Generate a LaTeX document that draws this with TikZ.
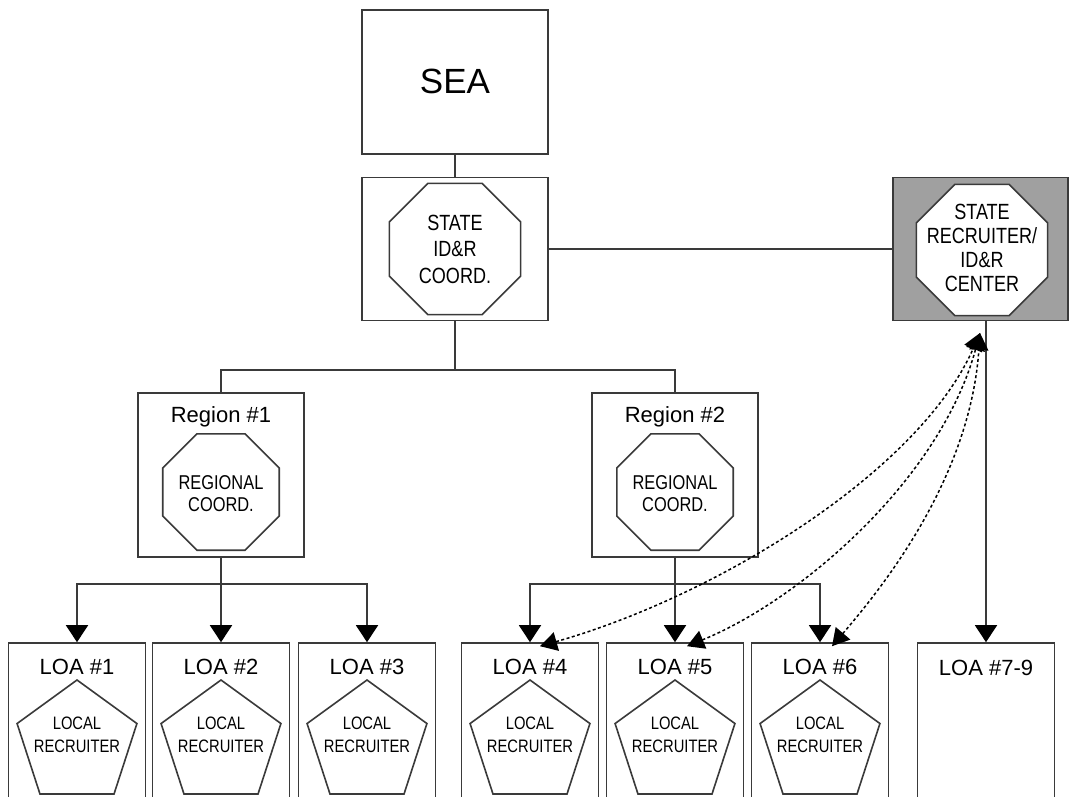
\documentclass[tikz,border=0pt]{standalone}
\usepackage{fontspec}
\setmainfont{Liberation Sans}
\newfontfamily\narrowsf[FakeStretch=0.82]{Liberation Sans}
\usepackage{tikz}
\usetikzlibrary{shapes.geometric,arrows.meta}
\definecolor{linegray}{HTML}{3A3A3A}
\definecolor{hubgray}{HTML}{A0A0A0}

\begin{document}
\begin{tikzpicture}
	[x=1pt,y=-1pt,line width=1.6pt,
	orgbox/.style={rectangle,draw=linegray,fill=white,inner sep=0pt},
	octa/.style={regular polygon,regular polygon sides=8,draw=linegray,fill=white,inner sep=0pt},
	penta/.style={regular polygon,regular polygon sides=5,draw=linegray,fill=white,inner sep=0pt,minimum size=126pt},
	title/.style={font=\fontsize{22}{26}\selectfont,anchor=base,inner sep=0pt},
	octtext/.style={font=\narrowsf\fontsize{21}{26.5}\selectfont,align=center,inner sep=0pt},
	pentext/.style={font=\narrowsf\fontsize{18}{23}\selectfont,align=center,inner sep=0pt},
	conn/.style={draw=linegray,line width=1.6pt},
	down/.style={conn,-{Triangle[width=22pt,length=17pt,color=black]}},
	dots/.style={draw=black,line width=1.5pt,dash pattern=on 3pt off 2.5pt,
		{Triangle[width=19pt,length=17pt]}-{Triangle[width=19pt,length=17pt]}}]
	\useasboundingbox (0,0) rectangle (1071,796);
	\clip (0,0) rectangle (1071,796);
	%LEVEL 0
	\node[orgbox,minimum width=186pt,minimum height=144pt] (sea) at (455,82) {};
	\node[title,font=\fontsize{35}{40}\selectfont] (seatext) at (455,93) {SEA};
	%LEVEL 1
	\node[orgbox,minimum width=186pt,minimum height=143pt] (state) at (455,249) {};
	\node[octa,minimum size=142pt] (stateoct) at (455,249) {};
	\node[octtext,font=\narrowsf\fontsize{22}{26.5}\selectfont] (statetext) at (455,249) {STATE\\ID\&R\\COORD.};
	\node[orgbox,fill=hubgray,minimum width=175pt,minimum height=143pt] (hub) at (980.5,249) {};
	\node[octa,minimum size=142pt] (huboct) at (982,250) {};
	\node[octtext,font=\narrowsf\fontsize{22}{24}\selectfont] (hubtext) at (982,248) {STATE\\RECRUITER/\\ID\&R\\CENTER};
	%LEVEL 2
	\foreach \i/\x in {1/221,2/675}
	{
		\node[orgbox,minimum width=166pt,minimum height=164pt] (region\i) at (\x,475) {};
		\node[title] (region\i t) at (\x,422) {Region \#\i};
		\node[octa,minimum size=126pt] (region\i oct) at (\x,492) {};
		\node[octtext,font=\narrowsf\fontsize{20}{22}\selectfont] (region\i text) at (\x,493.5) {REGIONAL\\COORD.};
	};
	%LEVEL 3
	\foreach \i/\x in {1/77,2/221,3/367,4/530,5/675,6/820}
	{
		\node[orgbox,minimum width=137pt,minimum height=170pt] (loa\i) at (\x,728) {};
		\node[title] (loa\i t) at (\x,674) {LOA \#\i};
		\node[penta] (rec\i) at (\x,743) {};
		\node[pentext] (rec\i text) at (\x,735) {LOCAL\\RECRUITER};
	};
	\node[orgbox,minimum width=137pt,minimum height=170pt] (loa79) at (986,728) {};
	\node[title] (loa79t) at (986,675) {LOA \#7-9};
	% connectors
	\coordinate (split) at (455,370);
	\coordinate (r1split) at (221,584);
	\coordinate (r2split) at (675,584);
	\path[conn] (sea) -- (state);
	\path[conn] (state) -- (hub);
	\path[conn] (state) -- (split);
	\path[conn] (region1.north) |- (split) -| (region2.north);
	\path[conn] (region1) -- (r1split);
	\path[conn] (region2) -- (r2split);
	\foreach \i in {1,2,3}
		\path[down] (r1split) -| (loa\i.north);
	\foreach \i in {4,5,6}
		\path[down] (r2split) -| (loa\i.north);
	\path[down] (loa79.north |- hub.south) -- (loa79.north);
	% dotted links to the center
	\coordinate (hubtip) at (980,333);
	\path[dots] ([xshift=10pt,yshift=-4pt]loa4.north) .. controls (720,595) and (920,470) .. (hubtip);
	\path[dots] ([xshift=12pt,yshift=-4pt]loa5.north) .. controls (800,600) and (940,480) .. (hubtip);
	\path[dots] ([xshift=12pt,yshift=-4pt]loa6.north) .. controls (880,590) and (970,480) .. (hubtip);
\end{tikzpicture}
\end{document}
